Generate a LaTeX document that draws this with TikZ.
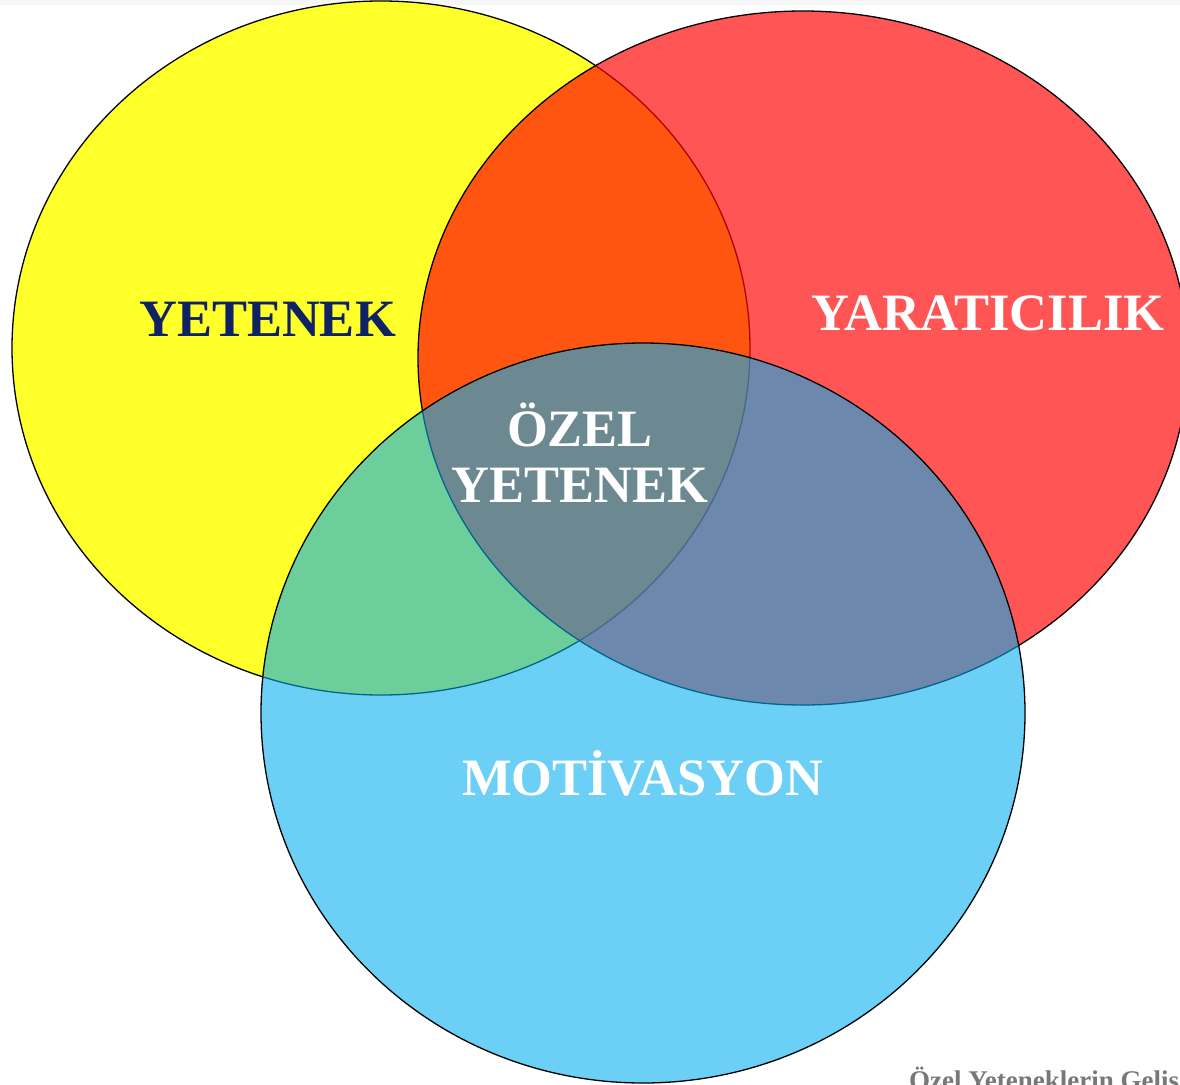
\documentclass[tikz,border=0pt]{standalone}
\usepackage{fontspec}
\setmainfont{Liberation Serif}
\definecolor{cyel}{RGB}{255,255,42}
\definecolor{cred}{RGB}{255,5,5}
\definecolor{cblu}{RGB}{3,174,238}
\definecolor{navy}{RGB}{14,34,100}
\definecolor{topgray}{RGB}{246,246,246}
\definecolor{capgray}{RGB}{120,120,120}
\tikzset{
  venn/.style={draw=black, line width=1.3pt},
  lbl/.style={font=\fontsize{52.5}{56}\selectfont\bfseries, anchor=base, inner sep=0pt},
}
\begin{document}
\begin{tikzpicture}[x=1pt,y=-1pt]
\useasboundingbox (0,0) rectangle (1180,1084);
\clip (0,0) rectangle (1180,1084);
\fill[white] (0,0) rectangle (1180,1084);
\fill[topgray] (0,0) rectangle (1180,5);
% circles
\filldraw[venn, fill=cyel] (381,348) ellipse [x radius=369pt, y radius=347pt];
\filldraw[venn, fill=cred, fill opacity=0.68] (803,358) ellipse [x radius=385pt, y radius=347pt];
\filldraw[venn, fill=cblu, fill opacity=0.58] (643,713) ellipse [x radius=382pt, y radius=370pt];
% labels
\node[lbl, text=navy] (yet) at (267.5,336) {YETENEK};
\node[lbl, text=white] (yar) at (988,330) {YARATICILIK};
\node[lbl, text=white] (mot) at (642.5,795) {MOTİVASYON};
\node[lbl, text=white] (oz1) at (580,446) {ÖZEL};
\node[lbl, text=white] (oz2) at (580,502) {YETENEK};
\node[anchor=base west, inner sep=0pt, text=capgray, font=\fontsize{27}{30}\selectfont\bfseries] (cap) at (909,1089) {Özel Yeteneklerin Geliş};
\end{tikzpicture}
\end{document}
